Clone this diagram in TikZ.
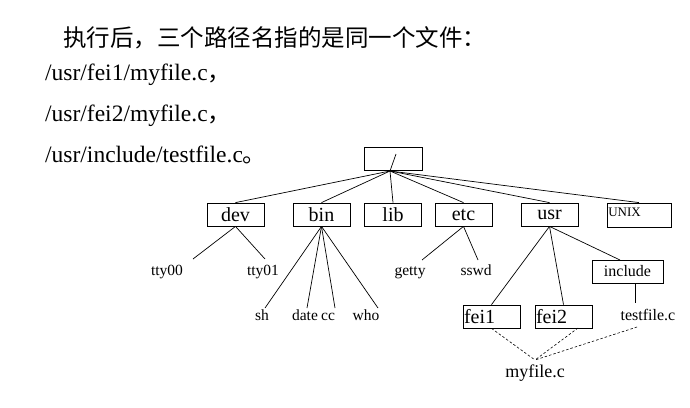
\documentclass[tikz,border=0pt]{standalone}
\usepackage{fontspec}
\setmainfont{Liberation Serif}
\newfontfamily\cjk{Noto Sans CJK SC}
\begin{document}
\begin{tikzpicture}[x=1pt,y=-1pt,
  box/.style={draw, line width=0.8pt, minimum width=57pt, minimum height=23pt, inner sep=0pt, font=\fontsize{20}{20}\selectfont},
  leaf/.style={inner sep=0pt, anchor=base, font=\fontsize{15.5}{16}\selectfont},
  para/.style={inner sep=0pt, anchor=base west, font=\fontsize{23.5}{24}\selectfont},
  edge/.style={line width=0.7pt},
  link/.style={line width=0.6pt, dash pattern=on 2.5pt off 2pt}]
\useasboundingbox (0,0) rectangle (690,407);
% text
\node[para] (t1) at (63,46) {\cjk 执行后，三个路径名指的是同一个文件：};
\node[para] (t2) at (45,80) {/usr/fei1/myfile.c{\cjk ，}};
\node[para] (t3) at (45,121) {/usr/fei2/myfile.c{\cjk ，}};
\node[para] (t4) at (45,162) {/usr/include/testfile.c{\cjk 。}};
% boxes
\node[box, minimum width=58pt] (root) at (393,158.5) {};
\node[box] (dev) at (235.5,214.5) {dev};
\node[box] (bin) at (321.5,214.5) {bin};
\node[box] (lib) at (393,214.5) {lib};
\node[box] (etc) at (463.5,214.5) {etc};
\node[box] (usr) at (549.5,214.5) {usr};
\node[box, minimum width=64pt, minimum height=24pt,
  label={[anchor=base west, inner sep=0pt, xshift=1.5pt, yshift=-13.5pt, font=\fontsize{13}{13}\selectfont]north west:UNIX}] (unix) at (639,215) {};
\node[box, minimum width=71pt, font=\fontsize{16}{16}\selectfont] (include) at (627.5,271.5) {include};
\node[box, text width=55pt, inner xsep=1pt, align=left] (fei1) at (491.5,316.5) {fei1};
\node[box, text width=55pt, inner xsep=1pt, align=left] (fei2) at (563.5,316.5) {fei2};
% leaves
\node[leaf] (tty00) at (167,275) {tty00};
\node[leaf] (tty01) at (263,275) {tty01};
\node[leaf] (getty) at (410,275) {getty};
\node[leaf] (passwd) at (476,275) {sswd};
\node[leaf] (sh) at (262,320) {sh};
\node[leaf] (date) at (305,320) {date};
\node[leaf] (cc) at (328,320) {cc};
\node[leaf] (who) at (366,320) {who};
\node[leaf, font=\fontsize{16}{16}\selectfont] (testfile) at (648,320) {testfile.c};
\node[leaf, font=\fontsize{18}{18}\selectfont] (myfile) at (535,377) {myfile.c};
% coordinates
\coordinate (rp) at (390,171);
\coordinate (rs) at (396,154);
\coordinate (e00) at (193,259);
\coordinate (e01) at (265,259);
\coordinate (esh) at (265,308);
\coordinate (edate) at (307,308);
\coordinate (ecc) at (335,308);
\coordinate (ewho) at (378,308);
\coordinate (egetty) at (422,260);
\coordinate (epass) at (478,260);
\coordinate (einc) at (620,260);
\coordinate (etf) at (635,303);
\coordinate (mf) at (535,360);
\coordinate (d2) at (578,328);
\coordinate (d3) at (637,327);
% edges
\draw[edge] (rs) -- (rp);
\foreach \n in {dev,bin,lib,etc,usr,unix} \draw[edge] (rp) -- (\n.north);
\draw[edge] (dev.south) -- (e00);
\draw[edge] (dev.south) -- (e01);
\foreach \e in {esh,edate,ecc,ewho} \draw[edge] (bin.south) -- (\e);
\draw[edge] (etc.south) -- (egetty);
\draw[edge] (etc.south) -- (epass);
\draw[edge] (usr.south) -- (fei1.north);
\draw[edge] (usr.south) -- (fei2.north);
\draw[edge] (usr.south) -- (einc);
\draw[edge] (include.south -| etf) -- (etf);
\draw[link] (fei1.south) -- (mf);
\draw[link] (d2) -- (mf);
\draw[link] (d3) -- (mf);
\end{tikzpicture}
\end{document}
